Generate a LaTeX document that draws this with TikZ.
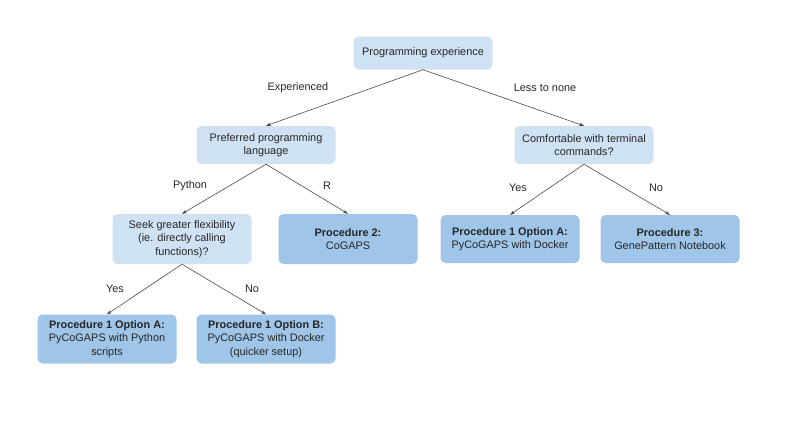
\documentclass[tikz,border=0pt]{standalone}
\usepackage{fontspec}
\setmainfont{Liberation Sans}
\usepackage{xcolor}
\usepackage{tikz}
\usetikzlibrary{arrows.meta}

\definecolor{qlight}{HTML}{CFE2F3}
\definecolor{qdark}{HTML}{9FC5E8}
\definecolor{qline}{HTML}{4A4A4A}

\tikzset{
    qbox/.style={fill=qlight, rounded corners=5pt, minimum width=139pt, align=center,
        inner sep=2pt, text=black!85, font=\fontsize{10.9}{13.5}\selectfont},
    pbox/.style={qbox, fill=qdark},
    choice/.style={text=black!85, font=\fontsize{10.9}{13.5}\selectfont},
    link/.style={-{Stealth[length=5pt,width=3.5pt]}, draw=qline, line width=0.6pt}
}

\begin{document}
\begin{tikzpicture}[x=1pt, y=-1pt]
    \useasboundingbox (0,0) rectangle (800,423);

    % Questions
    \node[qbox, minimum height=33pt] (exp) at (423,53) {Programming experience};
    \node[qbox, minimum height=38pt] (lang) at (266,145) {Preferred programming\\language};
    \node[qbox, minimum height=38pt] (term) at (584,145) {Comfortable with terminal\\commands?};
    \node[qbox, minimum height=50pt] (flex) at (182,239) {Seek greater flexibility\\(ie. directly calling\\functions)?};

    % Procedures
    \node[pbox, minimum height=50pt] (proc2) at (348,239) {\textbf{Procedure 2:}\\CoGAPS};
    \node[pbox, minimum height=48pt] (dockA) at (510,239) {\textbf{Procedure 1 Option A:}\\PyCoGAPS with Docker};
    \node[pbox, minimum height=48pt] (proc3) at (670,239) {\textbf{Procedure 3:}\\GenePattern Notebook};
    \node[pbox, minimum height=49pt] (optA) at (107,339) {\textbf{Procedure 1 Option A:}\\PyCoGAPS with Python\\scripts};
    \node[pbox, minimum height=49pt] (optB) at (266,339) {\textbf{Procedure 1 Option B:}\\PyCoGAPS with Docker\\(quicker setup)};

    % Connectors
    \draw[link] (exp.south) -- (lang.north);
    \draw[link] (exp.south) -- (term.north);
    \draw[link] (lang.south) -- (flex.north);
    \draw[link] (lang.south) -- (proc2.north);
    \draw[link] (term.south) -- (dockA.north);
    \draw[link] (term.south) -- (proc3.north);
    \draw[link] (flex.south) -- (optA.north);
    \draw[link] (flex.south) -- (optB.north);

    % Answers
    \node[choice] (lblexp) at (298,88) {Experienced};
    \node[choice] (lblless) at (545,88) {Less to none};
    \node[choice] (lblpy) at (190,186) {Python};
    \node[choice] (lblr) at (327,186) {R};
    \node[choice] (lblyes) at (518,188) {Yes};
    \node[choice] (lblno) at (656,188) {No};
    \node[choice] (lblyes2) at (115,289) {Yes};
    \node[choice] (lblno2) at (252,289) {No};
\end{tikzpicture}
\end{document}
